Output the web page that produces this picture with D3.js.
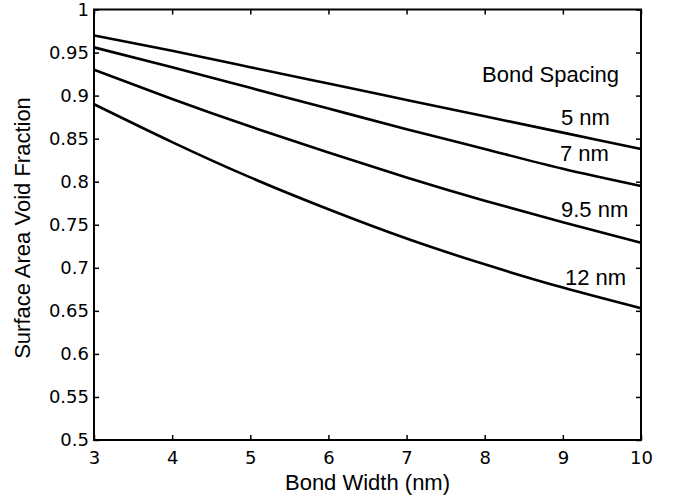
<!DOCTYPE html>
<html>
<head>
<meta charset="utf-8">
<script src="https://cdn.jsdelivr.net/npm/d3@7"></script>
<style>
  html, body { margin: 0; padding: 0; background: #fff; }
  svg { display: block; }
  .tick text { font-family: "DejaVu Sans", sans-serif; font-size: 18px; fill: #000; }
  .tick line { stroke: #000; stroke-width: 1.5px; }
  .lbl { font-family: "Liberation Sans", Arial, sans-serif; font-size: 22px; fill: #000; }
</style>
</head>
<body>
<script>
// Bond width (nm) on the x axis
const bondWidth = [3, 4, 5, 6, 7, 8, 9, 10];

// Surface area void fraction for each bond spacing
const spacing5 = [0.970, 0.952, 0.933, 0.914, 0.895, 0.876, 0.857, 0.838];
const spacing7 = [0.956, 0.933, 0.909, 0.885, 0.861, 0.838, 0.815, 0.795];
const spacing95 = [0.930, 0.896, 0.864, 0.834, 0.805, 0.778, 0.753, 0.729];
const spacing12 = [0.890, 0.846, 0.805, 0.768, 0.734, 0.704, 0.677, 0.653];

const seriesNames = ["5 nm", "7 nm", "9.5 nm", "12 nm"];
const seriesValues = [spacing5, spacing7, spacing95, spacing12];

const xTicks = [3, 4, 5, 6, 7, 8, 9, 10];
const yTicks = [0.5, 0.55, 0.6, 0.65, 0.7, 0.75, 0.8, 0.85, 0.9, 0.95, 1];
const yTickLabels = ["0.5", "0.55", "0.6", "0.65", "0.7", "0.75", "0.8", "0.85", "0.9", "0.95", "1"];

const W = 679, H = 497;
const margin = { left: 94, right: 38, top: 9.5, bottom: 57 };
const iw = W - margin.left - margin.right;
const ih = H - margin.top - margin.bottom;

const svg = d3.select("body").append("svg").attr("width", W).attr("height", H);
const g = svg.append("g").attr("transform", `translate(${margin.left},${margin.top})`);

const x = d3.scaleLinear().domain([3, 10]).range([0, iw]);
const y = d3.scaleLinear().domain([0.5, 1]).range([ih, 0]);

// Axes with inward ticks on all four sides
const axisB = g.append("g").attr("transform", `translate(0,${ih})`)
  .call(d3.axisBottom(x).tickValues(xTicks).tickFormat(d3.format("d")).tickSizeInner(-5).tickSizeOuter(0).tickPadding(11));
const axisL = g.append("g")
  .call(d3.axisLeft(y).tickValues(yTicks).tickFormat((d, i) => yTickLabels[i]).tickSizeInner(-5).tickSizeOuter(0).tickPadding(5));
const axisT = g.append("g")
  .call(d3.axisTop(x).tickValues(xTicks).tickFormat("").tickSizeInner(-5).tickSizeOuter(0));
const axisR = g.append("g").attr("transform", `translate(${iw},0)`)
  .call(d3.axisRight(y).tickValues(yTicks).tickFormat("").tickSizeInner(-5).tickSizeOuter(0));
[axisB, axisL, axisT, axisR].forEach(a => a.select(".domain").remove());

// Plot frame
g.append("rect").attr("x", 0).attr("y", 0).attr("width", iw).attr("height", ih)
  .attr("fill", "none").attr("stroke", "#000").attr("stroke-width", 2);

// Curves
const line = d3.line().x((d, i) => x(bondWidth[i])).y(d => y(d)).curve(d3.curveNatural);
g.selectAll(".curve").data(seriesValues).enter().append("path")
  .attr("class", "curve")
  .attr("d", line)
  .attr("fill", "none").attr("stroke", "#000").attr("stroke-width", 2.6)
  .attr("stroke-linejoin", "round");

// Curve labels
svg.append("text").attr("class", "lbl").attr("x", 482).attr("y", 82).text("Bond Spacing");
const labelPos = [[561, 125], [560, 161], [561, 217], [565, 285]];
seriesNames.forEach((n, i) => {
  svg.append("text").attr("class", "lbl").attr("x", labelPos[i][0]).attr("y", labelPos[i][1]).text(n);
});

// Axis titles
svg.append("text").attr("class", "lbl").attr("text-anchor", "middle")
  .attr("x", margin.left + iw / 2).attr("y", 490).text("Bond Width (nm)");
svg.append("text").attr("class", "lbl").attr("text-anchor", "middle")
  .attr("transform", "translate(30,228) rotate(-90)").text("Surface Area Void Fraction");
</script>
</body>
</html>
